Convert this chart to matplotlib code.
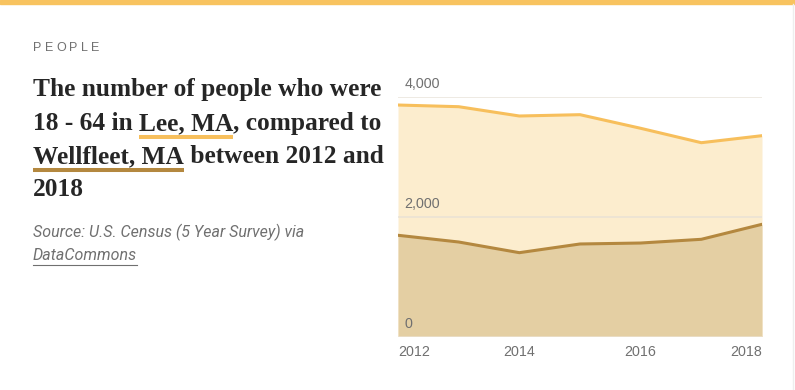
import matplotlib.pyplot as plt

years = [2012, 2013, 2014, 2015, 2016, 2017, 2018]
lee = [3858, 3830, 3675, 3697, 3470, 3230, 3347]
wellfleet = [1687, 1575, 1397, 1542, 1558, 1620, 1870]
y_ticks = [0, 2000, 4000]
x_ticks = [2012, 2014, 2016, 2018]

LEE_LINE = "#f7bf5c"
LEE_FILL = "#fcedce"
WELL_LINE = "#b4883f"
WELL_FILL = "#e4cfa3"
TITLE_COLOR = "#262626"
GRAY = "#707070"

W, H = 795, 390
fig = plt.figure(figsize=(W / 100, H / 100), dpi=100)

# card frame: orange bar on top
fig.patches.append(plt.Rectangle((0, 1 - 4 / H), 1, 4 / H, transform=fig.transFigure,
                                 color="#f8c35f", zorder=0))
fig.add_artist(plt.Line2D([1 - 2 / W, 1 - 2 / W], [0, 1 - 4 / H], transform=fig.transFigure,
                          color="#eeeeee", lw=1))


def px(x, y):
    return x / W, 1 - y / H


renderer = fig.canvas.get_renderer()

# letter-spaced label
x0 = 33
for ch in "PEOPLE":
    t = fig.text(*px(x0, 48), ch, fontsize=9, color=GRAY, family="Liberation Sans",
                 va="center", ha="left")
    x0 += t.get_window_extent(renderer).width + 3.2

title_kw = dict(fontsize=18.3, fontweight="bold", family="Liberation Serif",
                color=TITLE_COLOR, va="baseline", ha="left")

lines = [
    [("The number of people who were", None)],
    [("18 - 64 in ", None), ("Lee, MA", LEE_LINE), (", compared to", None)],
    [("Wellfleet, MA", WELL_LINE), (" between 2012 and", None)],
    [("2018", None)],
]
baselines = [96, 130, 163, 196]
for parts, base in zip(lines, baselines):
    x = 33
    for txt, ucol in parts:
        t = fig.text(*px(x, base), txt, **title_kw)
        ext = t.get_window_extent(renderer)
        w = ext.width
        if ucol is not None:
            fig.add_artist(plt.Line2D([x / W, (x + w) / W], [1 - (base + 7) / H] * 2,
                                      transform=fig.transFigure, color=ucol, lw=2.9,
                                      solid_capstyle="butt"))
        x += w

src_kw = dict(fontsize=11.5, style="italic", family="Roboto", color=GRAY,
              va="center", ha="left")
fig.text(*px(33, 232), "Source: U.S. Census (5 Year Survey) via", **src_kw)
t = fig.text(*px(33, 256), "DataCommons", **src_kw)
w = t.get_window_extent(renderer).width
fig.add_artist(plt.Line2D([33 / W, (33 + w) / W], [1 - 264.5 / H] * 2,
                          transform=fig.transFigure, color=GRAY, lw=0.8))

# chart area
left, right = 398, 762
top, bottom = 96.5, 336.5
ax = fig.add_axes([left / W, 1 - bottom / H, (right - left) / W, (bottom - top) / H])
ax.set_xlim(years[0], years[-1])
ax.set_ylim(0, 4000)
ax.fill_between(years, 0, lee, color=LEE_FILL, lw=0, zorder=1)
ax.fill_between(years, 0, wellfleet, color=WELL_FILL, lw=0, zorder=2)
for v in y_ticks:
    ax.axhline(v, color="#e6e0d6" if v else "#ece4d4", lw=1.2, alpha=0.8, zorder=3)
ax.plot(years, lee, color=LEE_LINE, lw=2.2, zorder=4, solid_capstyle="round")
ax.plot(years, wellfleet, color=WELL_LINE, lw=2.2, zorder=4, solid_capstyle="round")
for v in y_ticks:
    ax.annotate(f"{v:,}", (years[0], v), xytext=(4.5, 4), textcoords="offset points",
                fontsize=10.3, color=GRAY, family="Liberation Sans", va="bottom", ha="left",
                zorder=5)
ax.set_xticks(x_ticks)
ax.set_xticklabels([str(y) for y in x_ticks], fontsize=10.3, color=GRAY,
                   family="Liberation Sans")
labels = ax.get_xticklabels()
labels[0].set_ha("left")
labels[-1].set_ha("right")
ax.tick_params(axis="x", length=0, pad=6)
ax.set_yticks([])
for s in ax.spines.values():
    s.set_visible(False)
ax.patch.set_visible(False)

fig.savefig("out.png", dpi=100)
